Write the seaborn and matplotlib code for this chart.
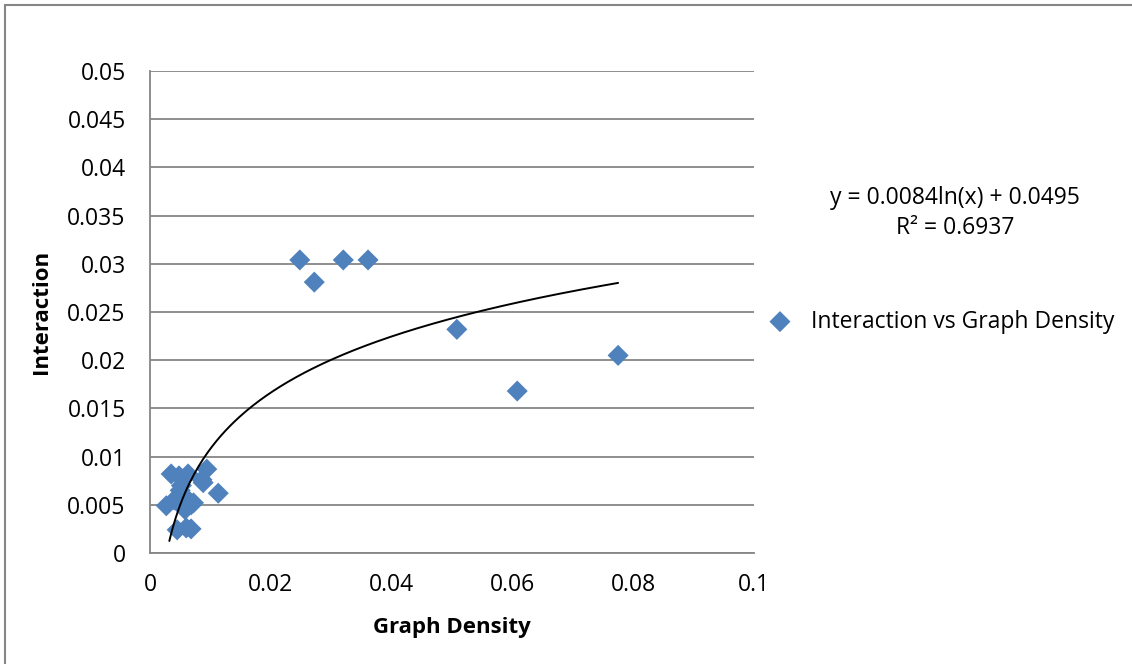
import numpy as np
import pandas as pd
import seaborn as sns
import matplotlib
import matplotlib.pyplot as plt
from matplotlib.patches import Rectangle

matplotlib.use('Agg')

# Data
graph_density = [0.0035, 0.0048, 0.0063, 0.0094, 0.0113, 0.0027, 0.0040, 0.0055,
                 0.0068, 0.0088, 0.0086, 0.0045, 0.0060, 0.0068, 0.0052, 0.0058,
                 0.0072, 0.0050, 0.0248, 0.0272, 0.0320, 0.0361, 0.0508, 0.0608,
                 0.0775]
interaction = [0.0082, 0.0080, 0.0082, 0.0087, 0.0062, 0.0049, 0.0055, 0.0060,
               0.0050, 0.0073, 0.0076, 0.0024, 0.0026, 0.0025, 0.0070, 0.0045,
               0.0052, 0.0065, 0.0304, 0.0281, 0.0304, 0.0304, 0.0232, 0.0168,
               0.0205]
trend_slope = 0.0084
trend_intercept = 0.0495
trend_r2 = 0.6937

df = pd.DataFrame({"Graph Density": graph_density, "Interaction": interaction})

sns.set_style("white")
plt.rcParams['font.family'] = ['Open Sans', 'DejaVu Sans']
plt.rcParams['text.color'] = 'black'
plt.rcParams['axes.labelcolor'] = 'black'
fs = 16.5

fig = plt.figure(figsize=(11.32, 6.64), dpi=100)
ax = fig.add_axes([150 / 1132, 1 - 553 / 664, 604 / 1132, 482 / 664])

# outer chart border (Excel style), right and bottom edges fall outside the image
fig.patches.append(Rectangle((5 / 1132, -0.1), 1.2, 1.1 - 5 / 664,
                             transform=fig.transFigure, fill=False,
                             edgecolor='#868686', linewidth=1.5))

sns.scatterplot(data=df, x="Graph Density", y="Interaction", ax=ax, marker='D',
                s=115, color='#4F81BD', edgecolor='none',
                label="Interaction vs Graph Density", zorder=3)

# logarithmic trendline
xt = np.linspace(min(graph_density) + 0.0005, max(graph_density), 200)
ax.plot(xt, trend_slope * np.log(xt) + trend_intercept, color='black', lw=1.4, zorder=4)

ax.set_xlim(0, 0.1)
ax.set_ylim(0, 0.05)
ax.set_xticks(np.arange(0, 0.101, 0.02))
ax.set_yticks(np.arange(0, 0.0501, 0.005))
ax.set_xticklabels(['0', '0.02', '0.04', '0.06', '0.08', '0.1'])
ax.set_yticklabels(['0'] + [f"{v:g}" for v in np.arange(0.005, 0.0501, 0.005)])
ax.yaxis.grid(True, color='#868686', lw=1.3)
ax.xaxis.grid(False)
for side in ['top', 'right']:
    ax.spines[side].set_visible(False)
for side in ['left', 'bottom']:
    ax.spines[side].set_color('#868686')
    ax.spines[side].set_linewidth(1.3)
ax.tick_params(axis='both', direction='out', length=4.5, width=1.3, color='#868686',
               labelsize=fs, labelcolor='black')
ax.tick_params(axis='y', pad=13)
ax.tick_params(axis='x', pad=10)
ax.set_xlabel("Graph Density", fontsize=fs - 0.5, fontweight='bold', labelpad=14,
              color='black')
ax.set_ylabel("Interaction", fontsize=fs - 0.5, fontweight='bold', labelpad=11,
              color='black')

ax.legend(loc='center left', frameon=False, fontsize=fs, borderaxespad=0,
          borderpad=0, handlelength=1.0, handletextpad=0.85)
leg = ax.get_legend()
leg.set_bbox_to_anchor((1.024, 0.48), transform=ax.transAxes)
for t in leg.get_texts():
    t.set_color('black')

fig.text(955 / 1132, 1 - 198 / 664, f"y = {trend_slope}ln(x) + {trend_intercept}",
         ha='center', va='center', fontsize=fs, color='black')
fig.text(955 / 1132, 1 - 228 / 664, f"R² = {trend_r2}",
         ha='center', va='center', fontsize=fs, color='black')

plt.savefig("out.png", dpi=100)
plt.close()
